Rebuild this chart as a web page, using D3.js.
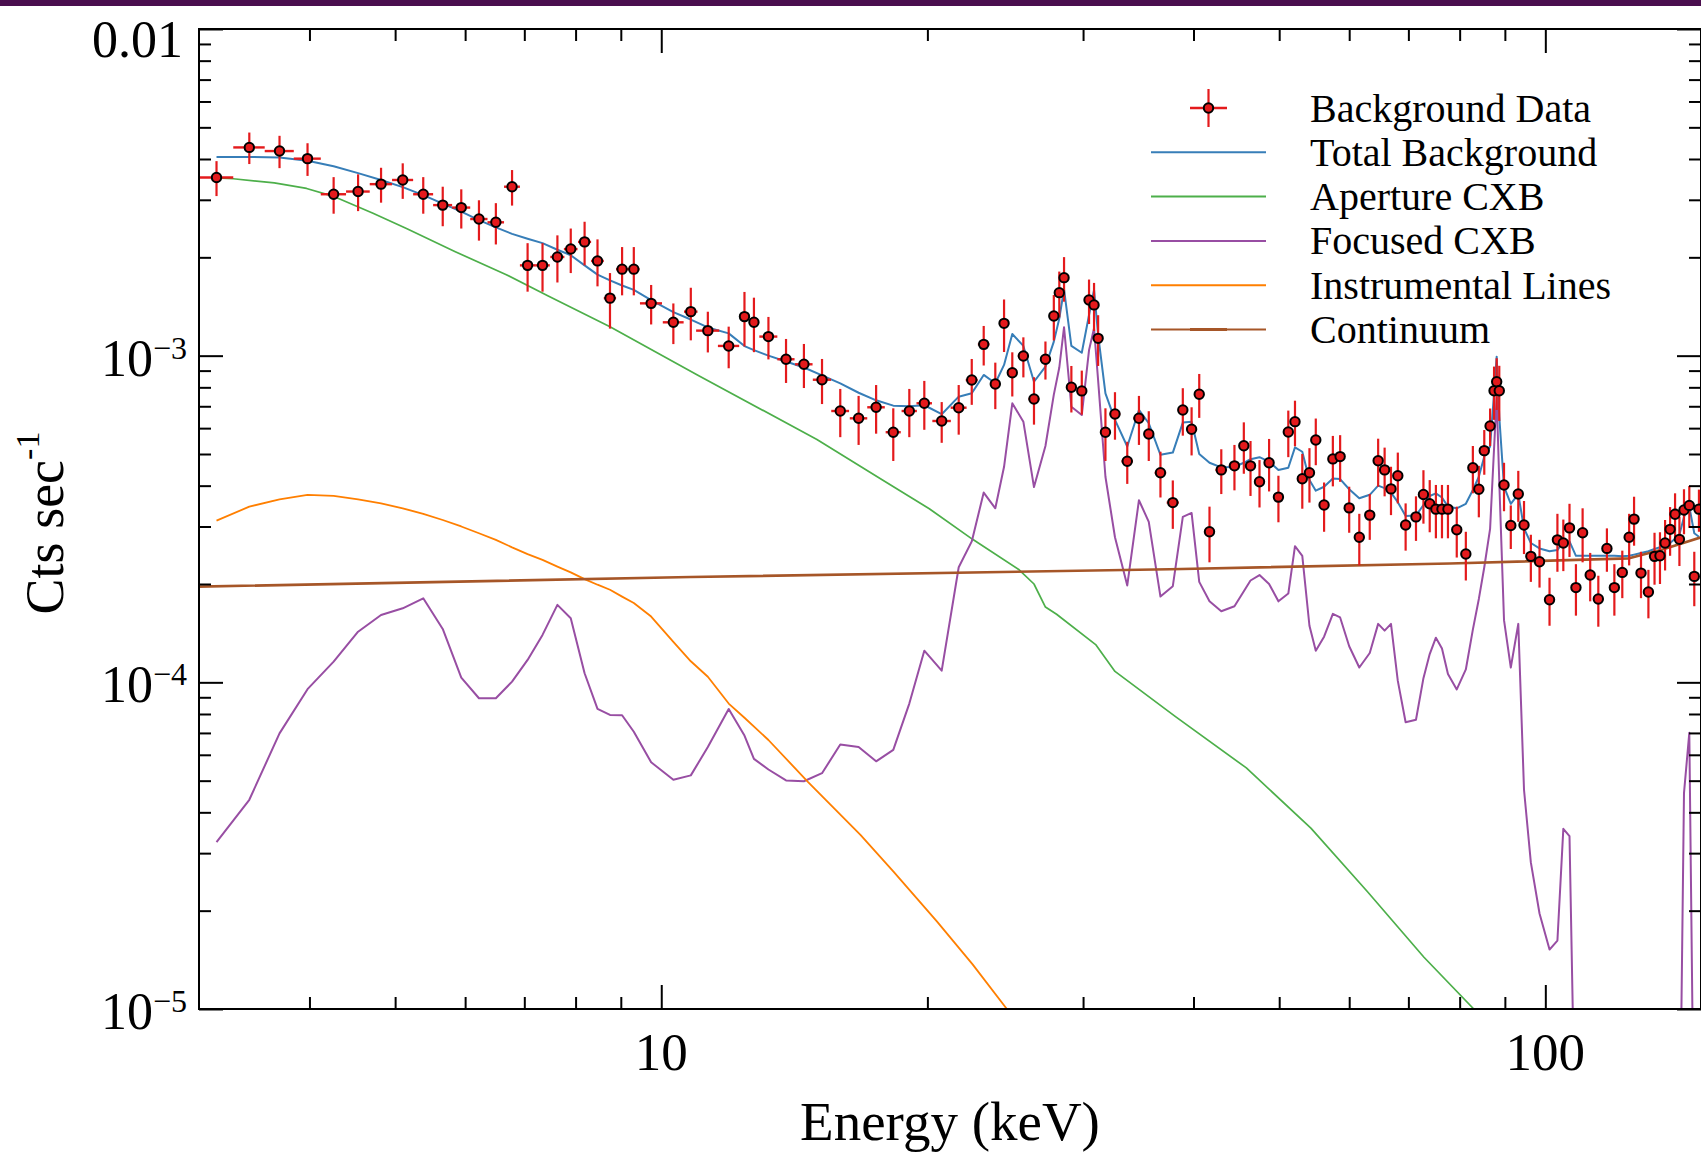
<!DOCTYPE html>
<html>
<head>
<meta charset="utf-8">
<script src="https://cdn.jsdelivr.net/npm/d3@7"></script>
<style>
  body { margin: 0; background: #fff; }
  svg { display: block; }
  text { font-family: "Liberation Serif", "Times New Roman", serif; fill: #000; }
</style>
</head>
<body>
<svg id="chart" width="1701" height="1152"></svg>
<script>
// Rates are in units of 10^-3 counts per second; energies in keV.

// Background spectrum: bin centre, bin half-width, rate, 1-sigma error
const energy = [
  3.14, 3.42, 3.70, 3.98, 4.26, 4.54, 4.82, 5.10, 5.38, 5.66,
  5.94, 6.22, 6.50, 6.78, 7.06, 7.34, 7.63, 7.90, 8.19, 8.47,
  8.75, 9.03, 9.31, 9.74, 10.32, 10.80, 11.29, 11.92, 12.42, 12.73,
  13.22, 13.84, 14.50, 15.20, 15.94, 16.72, 17.50, 18.30, 19.08, 19.84,
  20.76, 21.70, 22.45, 23.16, 23.87, 24.42, 24.95, 25.68, 26.40, 27.20,
  27.80, 28.20, 28.55, 29.10, 29.90, 30.47, 30.87, 31.20, 31.80, 32.60,
  33.66, 34.70, 35.60, 36.70, 37.90, 38.90, 39.80, 40.60, 41.70, 43.00,
  44.50, 45.60, 46.40, 47.50, 48.70, 49.90, 51.20, 52.10, 53.10, 54.10,
  55.00, 56.20, 57.50, 58.60, 60.00, 61.60, 63.30, 64.70, 65.80, 66.90,
  68.10, 69.50, 71.40, 72.80, 74.00, 75.20, 76.40, 77.60, 79.40, 81.30,
  82.80, 84.10, 85.30, 86.60, 87.50, 88.10, 88.70, 89.80, 91.40, 93.20,
  94.60, 96.30, 98.50, 101.1, 103.2, 104.8, 106.5, 108.3, 110.2, 112.4,
  114.8, 117.4, 119.7, 122.2, 124.4, 126.0, 128.3, 130.8, 132.9, 134.8,
  136.6, 138.4, 140.2, 141.8, 143.5, 145.5, 147.4, 149.2
];

const energyHalfWidth = [
  0.14, 0.14, 0.14, 0.14, 0.14, 0.14, 0.14, 0.14, 0.14, 0.14,
  0.14, 0.14, 0.14, 0.14, 0.14, 0.14, 0.14, 0.14, 0.14, 0.14,
  0.14, 0.14, 0.14, 0.28, 0.28, 0.19, 0.34, 0.33, 0.16, 0.16,
  0.31, 0.31, 0.33, 0.36, 0.37, 0.38, 0.40, 0.36, 0.38, 0.40,
  0.50, 0.45, 0.35, 0.35, 0.30, 0.27, 0.30, 0.37, 0.38, 0.35,
  0.25, 0.18, 0.20, 0.35, 0.35, 0.20, 0.18, 0.20, 0.35, 0.45,
  0.50, 0.50, 0.45, 0.55, 0.60, 0.50, 0.42, 0.45, 0.60, 0.65,
  0.65, 0.45, 0.50, 0.60, 0.60, 0.60, 0.55, 0.50, 0.50, 0.45,
  0.55, 0.62, 0.60, 0.62, 0.75, 0.80, 0.77, 0.62, 0.55, 0.57,
  0.65, 0.82, 0.82, 0.65, 0.60, 0.60, 0.60, 0.60, 0.92, 0.85,
  0.70, 0.62, 0.62, 0.55, 0.38, 0.30, 0.42, 0.68, 0.85, 0.80,
  0.78, 0.97, 1.20, 1.20, 0.92, 0.82, 0.88, 0.92, 1.00, 1.15,
  1.25, 1.22, 1.20, 1.17, 0.95, 0.97, 1.20, 1.15, 1.00, 0.92,
  0.90, 0.90, 0.85, 0.82, 0.92, 0.97, 0.92, 0.90
];

const backgroundRate = [
  3.51, 4.34, 4.23, 4.01, 3.12, 3.18, 3.35, 3.45, 3.12, 2.89,
  2.84, 2.62, 2.56, 3.29, 1.89, 1.89, 2.005, 2.12, 2.23, 1.95,
  1.50, 1.84, 1.84, 1.446, 1.265, 1.364, 1.193, 1.071, 1.317, 1.265,
  1.144, 0.975, 0.941, 0.844, 0.677, 0.643, 0.695, 0.583, 0.677, 0.715,
  0.631, 0.693, 0.842, 1.083, 0.819, 1.256, 0.887, 0.998, 0.737, 0.975,
  1.323, 1.559, 1.733, 0.800, 0.780, 1.480, 1.430, 1.130, 0.583, 0.663,
  0.475, 0.643, 0.576, 0.438, 0.355, 0.682, 0.595, 0.762, 0.289, 0.447,
  0.460, 0.530, 0.460, 0.411, 0.470, 0.369, 0.584, 0.628, 0.420, 0.438,
  0.552, 0.349, 0.483, 0.491, 0.342, 0.278, 0.325, 0.477, 0.447, 0.391,
  0.429, 0.303, 0.321, 0.376, 0.352, 0.339, 0.339, 0.339, 0.293, 0.247,
  0.454, 0.390, 0.512, 0.609, 0.781, 0.832, 0.781, 0.402, 0.302, 0.377,
  0.303, 0.243, 0.234, 0.179, 0.273, 0.267, 0.297, 0.195, 0.287, 0.213,
  0.180, 0.257, 0.195, 0.217, 0.278, 0.316, 0.216, 0.189, 0.243, 0.244,
  0.267, 0.294, 0.327, 0.274, 0.337, 0.348, 0.211, 0.339
];

const backgroundError = [
  0.43, 0.48, 0.48, 0.46, 0.40, 0.41, 0.41, 0.43, 0.40, 0.40,
  0.39, 0.37, 0.37, 0.41, 0.32, 0.32, 0.33, 0.33, 0.34, 0.32,
  0.29, 0.31, 0.31, 0.20, 0.18, 0.25, 0.17, 0.156, 0.25, 0.24,
  0.17, 0.15, 0.145, 0.133, 0.114, 0.11, 0.118, 0.107, 0.114, 0.122,
  0.09, 0.12, 0.135, 0.15, 0.133, 0.23, 0.137, 0.14, 0.122, 0.13,
  0.21, 0.25, 0.27, 0.13, 0.12, 0.23, 0.24, 0.20, 0.107, 0.11,
  0.07, 0.11, 0.10, 0.07, 0.06, 0.113, 0.10, 0.117, 0.056, 0.07,
  0.073, 0.095, 0.088, 0.068, 0.086, 0.06, 0.095, 0.10, 0.08, 0.083,
  0.09, 0.06, 0.085, 0.08, 0.055, 0.05, 0.052, 0.08, 0.076, 0.066,
  0.076, 0.05, 0.05, 0.07, 0.064, 0.063, 0.063, 0.063, 0.052, 0.042,
  0.075, 0.07, 0.08, 0.08, 0.145, 0.15, 0.15, 0.068, 0.046, 0.067,
  0.056, 0.04, 0.039, 0.03, 0.055, 0.048, 0.055, 0.035, 0.054, 0.036,
  0.032, 0.039, 0.035, 0.036, 0.05, 0.054, 0.035, 0.032, 0.044, 0.044,
  0.047, 0.05, 0.052, 0.047, 0.053, 0.051, 0.04, 0.05
];

// Model components evaluated at the spectrum bin centres
const totalBackground = [
  4.06, 4.06, 4.04, 3.95, 3.80, 3.62, 3.45, 3.28, 3.10, 2.92,
  2.76, 2.60, 2.47, 2.36, 2.28, 2.21, 2.11, 2.03, 1.89, 1.77,
  1.70, 1.64, 1.59, 1.48, 1.36, 1.29, 1.22, 1.17, 1.07, 1.04,
  1.00, 0.96, 0.92, 0.87, 0.823, 0.77, 0.73, 0.703, 0.700, 0.705,
  0.662, 0.749, 0.767, 0.873, 0.823, 0.937, 1.165, 1.071, 0.832, 0.925,
  1.104, 1.300, 1.597, 1.071, 1.021, 1.332, 1.590, 1.157, 0.767, 0.636,
  0.527, 0.682, 0.621, 0.497, 0.505, 0.624, 0.628, 0.500, 0.470, 0.455,
  0.457, 0.470, 0.482, 0.489, 0.474, 0.447, 0.454, 0.524, 0.508, 0.416,
  0.386, 0.397, 0.421, 0.419, 0.390, 0.366, 0.375, 0.400, 0.393, 0.381,
  0.356, 0.323, 0.324, 0.349, 0.372, 0.379, 0.368, 0.345, 0.341, 0.352,
  0.388, 0.426, 0.491, 0.527, 0.767, 0.993, 0.650, 0.397, 0.352, 0.377,
  0.296, 0.267, 0.257, 0.252, 0.254, 0.270, 0.270, 0.244, 0.244, 0.244,
  0.244, 0.244, 0.244, 0.243, 0.244, 0.246, 0.249, 0.252, 0.256, 0.259,
  0.263, 0.267, 0.275, 0.283, 0.321, 0.345, 0.286, 0.279
];

const focusedCXB = [
  0.0324, 0.0437, 0.0698, 0.0953, 0.1157, 0.1429, 0.1608, 0.1685, 0.1808, 0.1457,
  0.1034, 0.0894, 0.0894, 0.1005, 0.1171, 0.1397, 0.1726, 0.1571, 0.1066, 0.0829,
  0.0795, 0.0793, 0.0706, 0.0569, 0.0503, 0.0519, 0.0634, 0.0829, 0.0687, 0.0583,
  0.0541, 0.0501, 0.0498, 0.0527, 0.0645, 0.0634, 0.0573, 0.0621, 0.0861, 0.125,
  0.1086, 0.225, 0.270, 0.381, 0.341, 0.457, 0.715, 0.628, 0.396, 0.529,
  0.760, 0.920, 1.222, 0.698, 0.658, 1.040, 1.213, 0.840, 0.426, 0.278,
  0.198, 0.361, 0.310, 0.183, 0.197, 0.321, 0.330, 0.203, 0.177, 0.165,
  0.171, 0.190, 0.205, 0.213, 0.200, 0.177, 0.187, 0.261, 0.244, 0.149,
  0.125, 0.138, 0.162, 0.158, 0.129, 0.111, 0.123, 0.151, 0.144, 0.151,
  0.101, 0.0755, 0.0768, 0.103, 0.122, 0.137, 0.127, 0.106, 0.0951, 0.1095,
  0.145, 0.180, 0.225, 0.295, 0.520, 0.750, 0.410, 0.155, 0.111, 0.151,
  0.0469, 0.0281, 0.0196, 0.0152, 0.0162, 0.0356, 0.0338, 0.003, 0.003, 0.003,
  0.003, 0.003, 0.003, 0.003, 0.003, 0.003, 0.003, 0.003, 0.003, 0.003,
  0.003, 0.003, 0.003, 0.003, 0.0458, 0.0701, 0.003, 0.003
];

// Smooth components on their own energy grids
const apertureEnergy = [
  3.14, 3.28, 3.65, 3.97, 4.25, 4.72, 5.15, 5.84, 6.68, 7.45,
  8.75, 11.0, 15.0, 17.7, 20.1, 22.5, 25.4, 26.4, 27.2, 28.0,
  31.0, 32.6, 38.2, 45.9, 54.3, 62.9, 72.9, 83.0
];
const apertureCXB = [
  3.50, 3.48, 3.38, 3.25, 3.08, 2.73, 2.45, 2.084, 1.77, 1.523,
  1.227, 0.871, 0.554, 0.420, 0.340, 0.274, 0.221, 0.200, 0.170, 0.1616,
  0.1305, 0.108, 0.0784, 0.0547, 0.0358, 0.0229, 0.0144, 0.0100
];

const instrumentalEnergy = [
  3.14, 3.42, 3.70, 3.98, 4.26, 4.54, 4.82, 5.10, 5.38, 5.66,
  5.94, 6.22, 6.50, 6.78, 7.06, 7.34, 7.63, 7.90, 8.19, 8.47,
  8.75, 9.03, 9.31, 9.74, 10.32, 10.80, 11.29, 11.92, 12.42, 13.22,
  14.66, 16.80, 18.30, 20.50, 22.50, 24.60
];
const instrumentalLines = [
  0.3126, 0.345, 0.363, 0.375, 0.372, 0.363, 0.353, 0.341, 0.328, 0.314,
  0.300, 0.286, 0.273, 0.259, 0.247, 0.237, 0.226, 0.217, 0.207, 0.199,
  0.192, 0.183, 0.175, 0.159, 0.133, 0.116, 0.104, 0.0861, 0.0779, 0.0666,
  0.0495, 0.0341, 0.0264, 0.01855, 0.0137, 0.0100
];

const continuumEnergy = [3.0, 10.8, 37.6, 78.0, 124.4, 136.0, 150.0];
const continuumRate = [0.1963, 0.210, 0.222, 0.231, 0.2396, 0.2555, 0.278];

// Axis ticks (energy in keV, rate in 10^-3 cts/s)
const xMajorTicks = [10, 100];
const xMajorLabels = ["10", "100"];
const xMinorTicks = [4, 5, 6, 7, 8, 9, 20, 30, 40, 50, 60, 70, 80, 90];
const yMajorTicks = [0.01, 0.1, 1, 10];
const yMajorLabels = [["10", "\u22125"], ["10", "\u22124"], ["10", "\u22123"], ["0.01", ""]];
const yMinorTicks = [
  0.02, 0.03, 0.04, 0.05, 0.06, 0.07, 0.08, 0.09,
  0.2, 0.3, 0.4, 0.5, 0.6, 0.7, 0.8, 0.9,
  2, 3, 4, 5, 6, 7, 8, 9
];

const legendLabels = ["Background Data", "Total Background", "Aperture CXB",
                      "Focused CXB", "Instrumental Lines", "Continuum"];

// ---------------------------------------------------------------------------
const W = 1701, H = 1152;
const plot = { left: 199, right: 1701, top: 29, bottom: 1009 };
const colors = {
  data: "#e41a1c", total: "#377eb8", aperture: "#4daf4a",
  focused: "#984ea3", instrumental: "#ff7f00", continuum: "#a65628"
};

const x = d3.scaleLog().domain([3, 150]).range([plot.left, plot.right]);
const y = d3.scaleLog().domain([0.01, 10]).range([plot.bottom, plot.top]);

const svg = d3.select("#chart");
svg.append("rect").attr("width", W).attr("height", H).attr("fill", "#fff");
svg.append("rect").attr("x", 0).attr("y", 0).attr("width", W).attr("height", 6)
  .attr("fill", "#4a0e4e");

svg.append("defs").append("clipPath").attr("id", "plotClip")
  .append("rect")
  .attr("x", plot.left).attr("y", plot.top)
  .attr("width", plot.right - plot.left).attr("height", plot.bottom - plot.top);

// Model curves
const line = d3.line().x(d => x(d[0])).y(d => y(d[1]));
const curves = [
  { pts: d3.zip(energy, totalBackground), color: colors.total, w: 2 },
  { pts: d3.zip(apertureEnergy, apertureCXB), color: colors.aperture, w: 1.7 },
  { pts: d3.zip(energy, focusedCXB), color: colors.focused, w: 2 },
  { pts: d3.zip(instrumentalEnergy, instrumentalLines), color: colors.instrumental, w: 1.8 },
  { pts: d3.zip(continuumEnergy, continuumRate), color: colors.continuum, w: 2.6 }
];
const curveG = svg.append("g").attr("clip-path", "url(#plotClip)");
curveG.selectAll("path").data(curves).join("path")
  .attr("d", d => line(d.pts))
  .attr("fill", "none")
  .attr("stroke", d => d.color)
  .attr("stroke-width", d => d.w)
  .attr("stroke-linejoin", "round");

// Background data with error bars
const points = energy.map((e, i) => ({
  e, dE: energyHalfWidth[i], v: backgroundRate[i], s: backgroundError[i]
}));
const dataG = svg.append("g");
dataG.selectAll("line.xerr").data(points).join("line").attr("class", "xerr")
  .attr("x1", d => x(d.e - d.dE)).attr("x2", d => x(d.e + d.dE))
  .attr("y1", d => y(d.v)).attr("y2", d => y(d.v))
  .attr("stroke", colors.data).attr("stroke-width", 2.4);
dataG.selectAll("line.yerr").data(points).join("line").attr("class", "yerr")
  .attr("x1", d => x(d.e)).attr("x2", d => x(d.e))
  .attr("y1", d => y(d.v - d.s)).attr("y2", d => y(d.v + d.s))
  .attr("stroke", colors.data).attr("stroke-width", 2.2);
dataG.selectAll("circle").data(points).join("circle")
  .attr("cx", d => x(d.e)).attr("cy", d => y(d.v)).attr("r", 4.7)
  .attr("fill", colors.data).attr("stroke", "#000").attr("stroke-width", 2);

// Inward ticks on all four sides
const axisG = svg.append("g");
function addTicks(makeAxis, scale, values, size, transform) {
  const g = axisG.append("g").attr("transform", transform)
    .call(makeAxis(scale).tickValues(values).tickSize(-size).tickSizeOuter(0).tickFormat(""));
  g.select(".domain").remove();
  g.selectAll(".tick line").attr("stroke", "#000").attr("stroke-width", 2);
}
addTicks(d3.axisBottom, x, xMajorTicks, 24, `translate(0,${plot.bottom})`);
addTicks(d3.axisBottom, x, xMinorTicks, 12, `translate(0,${plot.bottom})`);
addTicks(d3.axisTop, x, xMajorTicks, 24, `translate(0,${plot.top})`);
addTicks(d3.axisTop, x, xMinorTicks, 12, `translate(0,${plot.top})`);
addTicks(d3.axisLeft, y, yMajorTicks, 24, `translate(${plot.left},0)`);
addTicks(d3.axisLeft, y, yMinorTicks, 12, `translate(${plot.left},0)`);
addTicks(d3.axisRight, y, yMajorTicks, 24, `translate(${plot.right},0)`);
addTicks(d3.axisRight, y, yMinorTicks, 12, `translate(${plot.right},0)`);

svg.append("rect")
  .attr("x", plot.left).attr("y", plot.top)
  .attr("width", plot.right - plot.left).attr("height", plot.bottom - plot.top)
  .attr("fill", "none").attr("stroke", "#000").attr("stroke-width", 2);

// Tick labels
const labelG = svg.append("g");
xMajorTicks.forEach((t, i) => {
  labelG.append("text")
    .attr("x", x(t)).attr("y", 1070)
    .attr("text-anchor", "middle").attr("font-size", 53)
    .text(xMajorLabels[i]);
});
yMajorTicks.forEach((t, i) => {
  const [base, sup] = yMajorLabels[i];
  const isTop = t === 10;
  const txt = labelG.append("text")
    .attr("x", isTop ? 183 : 187)
    .attr("y", isTop ? 57 : y(t) + 20)
    .attr("text-anchor", "end").attr("font-size", 52);
  txt.append("tspan").text(base);
  if (sup) {
    txt.append("tspan").attr("font-size", 32).attr("dy", -17).text(sup);
  }
});

// Axis titles
svg.append("text")
  .attr("x", (plot.left + plot.right) / 2).attr("y", 1140)
  .attr("text-anchor", "middle").attr("font-size", 55)
  .text("Energy (keV)");
const yTitle = svg.append("text")
  .attr("transform", "translate(63,523) rotate(-90)")
  .attr("text-anchor", "middle").attr("font-size", 54);
yTitle.append("tspan").text("Cts sec");
yTitle.append("tspan").attr("font-size", 34).attr("dy", -24).text("-1");

// Legend
const legend = svg.append("g");
const rowY = i => 108 + i * 44.3;
legend.append("line").attr("x1", 1190).attr("x2", 1227)
  .attr("y1", rowY(0)).attr("y2", rowY(0))
  .attr("stroke", colors.data).attr("stroke-width", 2.4);
legend.append("line").attr("x1", 1208.5).attr("x2", 1208.5)
  .attr("y1", rowY(0) - 19).attr("y2", rowY(0) + 19)
  .attr("stroke", colors.data).attr("stroke-width", 2.2);
legend.append("circle").attr("cx", 1208.5).attr("cy", rowY(0)).attr("r", 4.7)
  .attr("fill", colors.data).attr("stroke", "#000").attr("stroke-width", 2);
const legendColors = [colors.total, colors.aperture, colors.focused, colors.instrumental, colors.continuum];
legendColors.forEach((c, i) => {
  legend.append("line").attr("x1", 1151).attr("x2", 1266)
    .attr("y1", rowY(i + 1)).attr("y2", rowY(i + 1))
    .attr("stroke", c).attr("stroke-width", 2);
});
legend.append("line").attr("x1", 1190).attr("x2", 1227)
  .attr("y1", rowY(5)).attr("y2", rowY(5))
  .attr("stroke", colors.continuum).attr("stroke-width", 3);
legendLabels.forEach((lbl, i) => {
  legend.append("text").attr("x", 1310).attr("y", rowY(i) + 13.5)
    .attr("font-size", 40).text(lbl);
});
</script>
</body>
</html>
